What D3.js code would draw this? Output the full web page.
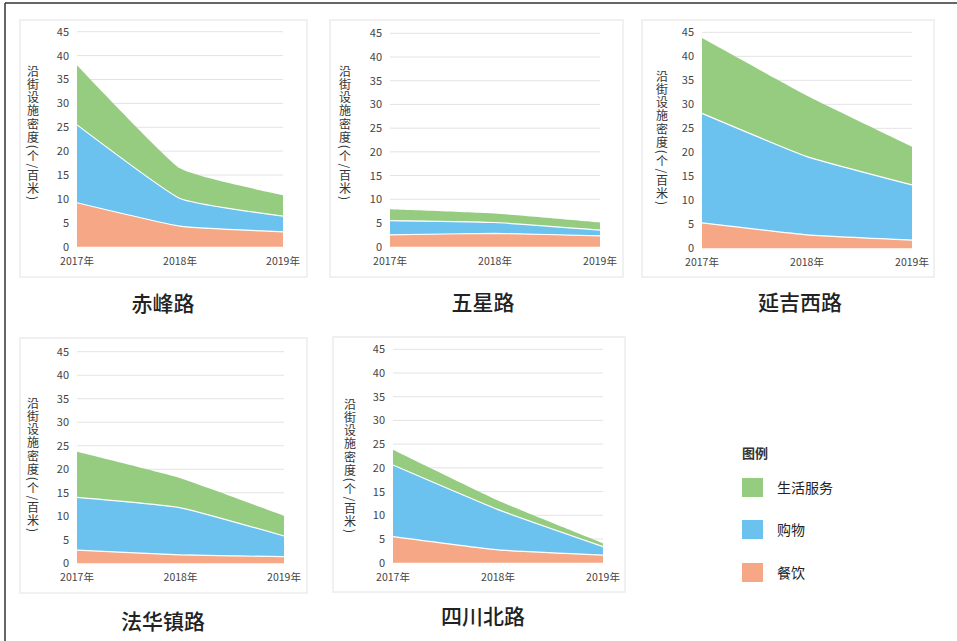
<!DOCTYPE html>
<html>
<head>
<meta charset="utf-8">
<script src="https://cdn.jsdelivr.net/npm/d3@7"></script>
<style>
body { margin: 0; background: #fff; }
text { font-family: "Noto Sans CJK SC", "Noto Sans", sans-serif; }
</style>
</head>
<body>
<div id="chart"></div>
<script>
// data
var years = ["2017年", "2018年", "2019年"];
var roads = ["赤峰路", "五星路", "延吉西路", "法华镇路", "四川北路"];
var catering = [[9.2, 4.3, 3.1], [2.5, 2.8, 2.3], [5.3, 2.8, 1.7], [2.8, 1.8, 1.4], [5.5, 2.7, 1.6]];
var shopping = [[16.3, 5.8, 3.3], [3.0, 2.3, 1.2], [22.8, 16.3, 11.5], [11.2, 10.0, 4.4], [15.1, 8.5, 1.8]];
var service = [[12.5, 6.3, 4.4], [2.4, 1.9, 1.6], [15.7, 12.7, 8.0], [9.7, 6.3, 4.3], [3.2, 1.9, 0.7]];
var yTicks = [0, 5, 10, 15, 20, 25, 30, 35, 40, 45];
var seriesNames = ["餐饮", "购物", "生活服务"];
var yTitle = "沿街设施密度(个/百米)";

var colors = {"餐饮": "#f6a785", "购物": "#6bc2ef", "生活服务": "#95cc80"};

// panel placement in the page
var layout = [
  {x0: 77, x1: 283, top: 31.7, bot: 246.7, card: [20, 20, 287, 257], title: [163, 304], labX: 33, labY: 65},
  {x0: 390, x1: 600, top: 33.3, bot: 246.7, card: [330, 20, 293, 257], title: [483, 303], labX: 345, labY: 65},
  {x0: 702, x1: 912, top: 32.3, bot: 248.3, card: [642, 20, 292, 257], title: [800, 303], labX: 662, labY: 70},
  {x0: 77, x1: 284, top: 351.7, bot: 563.3, card: [20, 338, 287, 255], title: [163, 622], labX: 33, labY: 397},
  {x0: 393, x1: 603, top: 349.3, bot: 562.7, card: [333, 337, 292, 255], title: [483, 617], labX: 350, labY: 398}
];

var svg = d3.select("#chart").append("svg")
  .attr("width", 957)
  .attr("height", 641);

// outer frame (top + left edges)
svg.append("line").attr("x1", 5).attr("y1", 3).attr("x2", 957).attr("y2", 3)
  .attr("stroke", "#333").attr("stroke-width", 1.5);
svg.append("line").attr("x1", 5).attr("y1", 3).attr("x2", 5).attr("y2", 641)
  .attr("stroke", "#333").attr("stroke-width", 1.5);

var stack = d3.stack().keys(seriesNames);
var curve = d3.curveCardinal.tension(0.6);

roads.forEach(function(road, i) {
  var L = layout[i];
  var g = svg.append("g");

  g.append("rect")
    .attr("x", L.card[0]).attr("y", L.card[1])
    .attr("width", L.card[2]).attr("height", L.card[3])
    .attr("fill", "#fff")
    .attr("stroke", "#ececec").attr("stroke-width", 1.5);

  var x = d3.scalePoint().domain(years).range([L.x0, L.x1]);
  var y = d3.scaleLinear().domain([0, 45]).range([L.bot, L.top]);

  // grid
  g.selectAll(".grid").data(yTicks.slice(1)).enter().append("line")
    .attr("x1", L.x0).attr("x2", L.x1)
    .attr("y1", function(d) { return y(d); })
    .attr("y2", function(d) { return y(d); })
    .attr("stroke", "#e3e3e3").attr("stroke-width", 1);

  var rows = years.map(function(yr, j) {
    return {year: yr, "餐饮": catering[i][j], "购物": shopping[i][j], "生活服务": service[i][j]};
  });
  var layers = stack(rows);

  var area = d3.area()
    .x(function(d) { return x(d.data.year); })
    .y0(function(d) { return y(d[0]); })
    .y1(function(d) { return y(d[1]); })
    .curve(curve);

  g.selectAll(".layer").data(layers).enter().append("path")
    .attr("d", area)
    .attr("fill", function(d) { return colors[d.key]; });

  // thin white edges between layers
  var edge = d3.line()
    .x(function(d) { return x(d.data.year); })
    .y(function(d) { return y(d[1]); })
    .curve(curve);
  g.selectAll(".edge").data(layers.slice(0, 2)).enter().append("path")
    .attr("d", edge)
    .attr("fill", "none")
    .attr("stroke", "#fff").attr("stroke-width", 1.2);

  // y tick labels
  g.selectAll(".ytick").data(yTicks).enter().append("text")
    .attr("x", L.x0 - 8)
    .attr("y", function(d) { return y(d) + 4; })
    .attr("text-anchor", "end")
    .attr("font-size", 11)
    .attr("fill", "#444")
    .text(function(d) { return d; });

  // x labels
  g.selectAll(".xtick").data(years).enter().append("text")
    .attr("x", function(d) { return x(d); })
    .attr("y", L.bot + 18)
    .attr("text-anchor", "middle")
    .attr("font-size", 10.5)
    .attr("fill", "#444")
    .text(function(d) { return d; });

  // vertical y title
  g.append("text")
    .attr("x", L.labX)
    .attr("y", L.labY)
    .attr("font-size", 12)
    .attr("fill", "#333")
    .style("writing-mode", "vertical-rl")
    .style("letter-spacing", "1.3px")
    .text(yTitle);

  g.append("text")
    .attr("x", L.title[0]).attr("y", L.title[1] + 7)
    .attr("text-anchor", "middle")
    .attr("font-size", 21)
    .attr("font-weight", 500)
    .attr("fill", "#222")
    .text(road);
});

// legend
var leg = svg.append("g");
leg.append("text").attr("x", 742).attr("y", 458)
  .attr("font-size", 13).attr("font-weight", "bold").attr("fill", "#333")
  .text("图例");
var legItems = ["生活服务", "购物", "餐饮"];
var legY = [478, 520, 563];
legItems.forEach(function(k, i) {
  leg.append("rect").attr("x", 742).attr("y", legY[i])
    .attr("width", 21).attr("height", 19)
    .attr("fill", colors[k]);
  leg.append("text").attr("x", 777).attr("y", legY[i] + 15)
    .attr("font-size", 14).attr("fill", "#222")
    .text(k);
});
</script>
</body>
</html>
